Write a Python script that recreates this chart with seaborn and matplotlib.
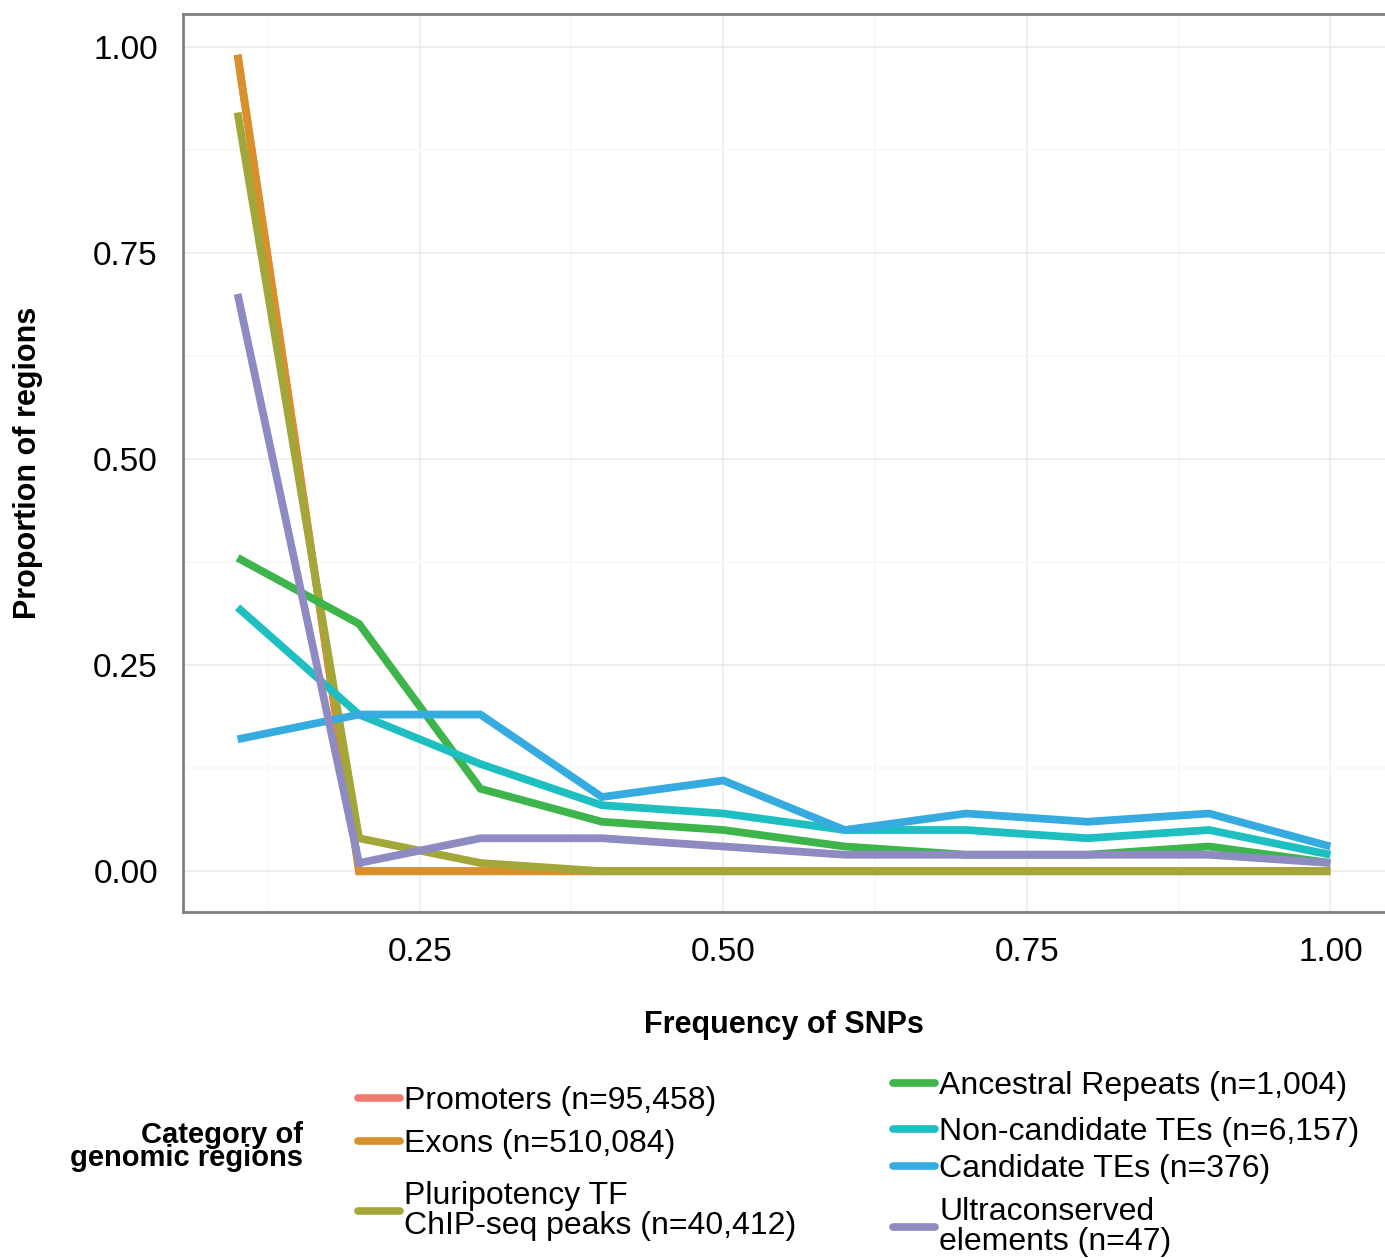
import numpy as np
import pandas as pd
import matplotlib
matplotlib.use("Agg")
import matplotlib.pyplot as plt
import seaborn as sns
from matplotlib.lines import Line2D

# =====================================
# DATA
# =====================================
freq = [0.1, 0.2, 0.3, 0.4, 0.5, 0.6, 0.7, 0.8, 0.9, 1.0]

promoters = [0.99, 0.0, 0.0, 0.0, 0.0, 0.0, 0.0, 0.0, 0.0, 0.0]
exons = [0.99, 0.0, 0.0, 0.0, 0.0, 0.0, 0.0, 0.0, 0.0, 0.0]
pluripotency = [0.92, 0.04, 0.01, 0.0, 0.0, 0.0, 0.0, 0.0, 0.0, 0.0]
ancestral = [0.38, 0.30, 0.10, 0.06, 0.05, 0.03, 0.02, 0.02, 0.03, 0.01]
noncandidate = [0.32, 0.19, 0.13, 0.08, 0.07, 0.05, 0.05, 0.04, 0.05, 0.02]
candidate = [0.16, 0.19, 0.19, 0.09, 0.11, 0.05, 0.07, 0.06, 0.07, 0.03]
ultraconserved = [0.70, 0.01, 0.04, 0.04, 0.03, 0.02, 0.02, 0.02, 0.02, 0.01]

labels = [
    "Promoters (n=95,458)",
    "Exons (n=510,084)",
    "Pluripotency TF\nChIP-seq peaks (n=40,412)",
    "Ancestral Repeats (n=1,004)",
    "Non-candidate TEs (n=6,157)",
    "Candidate TEs (n=376)",
    "Ultraconserved\nelements (n=47)",
]
colors = ["#F07B6E", "#D98F2A", "#A3A73A", "#3DB54A",
          "#1DBFC1", "#35ABE0", "#8E8BC3"]
series = [promoters, exons, pluripotency, ancestral,
          noncandidate, candidate, ultraconserved]

df = pd.concat(
    [pd.DataFrame({"freq": freq, "prop": vals, "cat": lab})
     for lab, vals in zip(labels, series)],
    ignore_index=True,
)

# =====================================
# PLOT
# =====================================
sns.set_style("white")
plt.rcParams["font.family"] = ["Liberation Sans", "DejaVu Sans"]
plt.rcParams["text.color"] = "black"
plt.rcParams["axes.labelcolor"] = "black"

fig = plt.figure(figsize=(13.85, 12.58), dpi=100)
ax = fig.add_axes([0.1321, 0.275, 0.8679, 0.7139])

sns.lineplot(
    data=df, x="freq", y="prop", hue="cat", hue_order=labels,
    palette=dict(zip(labels, colors)), linewidth=5.6,
    legend=False, ax=ax,
)
for ln in ax.get_lines():
    ln.set_solid_capstyle("butt")
    ln.set_solid_joinstyle("miter")

ax.set_xlim(0.055, 1.045)
ax.set_ylim(-0.0495, 1.0395)
ax.set_xticks([0.25, 0.5, 0.75, 1.0])
ax.set_xticklabels(["0.25", "0.50", "0.75", "1.00"])
ax.set_yticks([0.0, 0.25, 0.5, 0.75, 1.0])
ax.set_yticklabels(["0.00", "0.25", "0.50", "0.75", "1.00"])
ax.set_xticks([0.125, 0.375, 0.625, 0.875], minor=True)
ax.set_yticks([0.125, 0.375, 0.625, 0.875], minor=True)

ax.grid(which="major", color="#EBEBEB", linewidth=1.1)
ax.grid(which="minor", color="#F8F8F8", linewidth=1.1)
ax.set_axisbelow(True)

for side in ["left", "bottom", "top"]:
    ax.spines[side].set_visible(True)
    ax.spines[side].set_color("#808080")
    ax.spines[side].set_linewidth(2)
ax.spines["right"].set_visible(False)

ax.tick_params(axis="both", which="major", direction="out", length=6,
               width=1.5, color="black", labelsize=24, labelcolor="black")
ax.tick_params(axis="both", which="minor", length=0)
ax.tick_params(axis="x", pad=12)
ax.tick_params(axis="y", pad=12)

ax.set_xlabel("Frequency of SNPs", fontsize=22, fontweight="bold", labelpad=30)
ax.set_ylabel("Proportion of regions", fontsize=22, fontweight="bold", labelpad=36)

# =====================================
# LEGEND (entries hand-placed in two columns, like the original)
# =====================================
# (x of handle, y centre) in figure fraction for each entry
legend_pos = [
    (0.2585, 0.1248), (0.2585, 0.0906), (0.2585, 0.0374),
    (0.6448, 0.1367), (0.6448, 0.1002), (0.6448, 0.0707), (0.6448, 0.0246),
]
for lab, col, (lx, ly) in zip(labels, colors, legend_pos):
    h = Line2D([], [], color=col, linewidth=5.5)
    leg = fig.legend(
        [h], [lab], loc="center left", bbox_to_anchor=(lx, ly),
        frameon=False, fontsize=23, handlelength=1.3, handletextpad=0.15,
        borderpad=0, borderaxespad=0,
    )
    for t in leg.get_texts():
        t.set_linespacing(1.0)
        t.set_color("black")

fig.text(0.2188, 0.0885, "Category of\ngenomic regions", ha="right", va="center",
         fontsize=21, fontweight="bold", linespacing=0.75, color="black")

fig.savefig("out.png", dpi=100)
